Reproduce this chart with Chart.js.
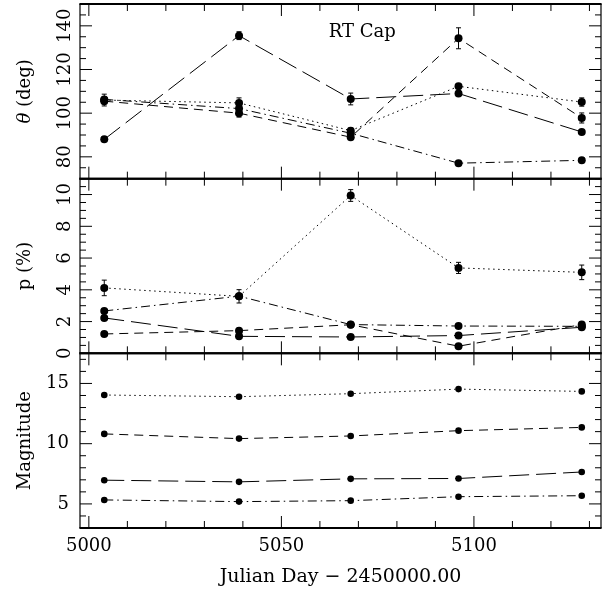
<!DOCTYPE html>
<html>
<head>
<meta charset="utf-8">
<script src="https://cdn.jsdelivr.net/npm/chart.js@4.4.1/dist/chart.umd.min.js"></script>
<style>
body { margin: 0; background: #fff; }
canvas { display: block; }
</style>
</head>
<body>
<canvas id="chart" width="605" height="590"></canvas>
<script>
// observation dates, JD - 2450000
var days = [5004, 5039, 5068, 5096, 5128];

// position angle theta (deg), one array per line style
var thetaDotted  = [106.0, 104.7, 92.0, 112.3, 105.1];
var thetaShort   = [105.5, 100.0, 89.0, 134.3, 97.8];
var thetaLong    = [88.0, 135.5, 106.5, 109.0, 91.4];
var thetaDashDot = [106.3, 102.1, 90.8, 77.1, 78.4];
var thetaErrDotted = [2.7, 2.3, 1.2, 1.0, 1.9];
var thetaErrShort  = [0, 1.8, 1.0, 4.8, 2.3];
var thetaErrLong   = [0, 1.8, 2.7, 1.0, 0];

// polarization p (%)
var pDotted  = [4.12, 3.59, 9.94, 5.38, 5.10];
var pShort   = [1.22, 1.43, 1.80, 0.45, 1.81];
var pLong    = [2.23, 1.07, 1.03, 1.12, 1.64];
var pDashDot = [2.67, 3.60, 1.81, 1.72, 1.70];
var pErrDotted = [0.49, 0.42, 0.37, 0.35, 0.46];

// magnitudes
var magDotted  = [14.04, 13.90, 14.15, 14.53, 14.34];
var magShort   = [10.81, 10.42, 10.64, 11.08, 11.35];
var magLong    = [6.97, 6.83, 7.08, 7.11, 7.65];
var magDashDot = [5.33, 5.19, 5.27, 5.60, 5.68];

// tick labels
var dayTicks = [5000, 5050, 5100];
var thetaTicks = [80, 100, 120, 140];
var pTicks = [0, 2, 4, 6, 8, 10];
var magTicks = [5, 10, 15];

var FONT = "'DejaVu Serif', serif";
var SIZE = 18;
var dotted = [1.5, 3.5], shortDash = [9, 6], longDash = [20, 7], dashDot = [9, 4, 1.5, 4];

function series(vals, axis, dash, r) {
    return {
        data: days.map(function(d, i) { return {x: d, y: vals[i]}; }),
        yAxisID: axis,
        borderColor: '#000',
        backgroundColor: '#000',
        borderWidth: 1,
        borderDash: dash,
        pointRadius: r,
        pointBorderWidth: 0,
        tension: 0,
        fill: false
    };
}

// panels: axis id, major/minor step, label values, title
var panels = [
    {id: 'yTheta', major: 20, minor: 5, ticks: thetaTicks, rotate: true, title: ['\u03b8', ' (deg)']},
    {id: 'yP', major: 2, minor: 0.5, ticks: pTicks, rotate: true, title: ['', 'p (%)']},
    {id: 'yMag', major: 5, minor: 1, ticks: magTicks, rotate: false, title: ['', 'Magnitude']}
];

var errorBars = [
    ['yTheta', thetaDotted, thetaErrDotted],
    ['yTheta', thetaShort, thetaErrShort],
    ['yTheta', thetaLong, thetaErrLong],
    ['yP', pDotted, pErrDotted]
];

function line(ctx, x1, y1, x2, y2) {
    ctx.beginPath();
    ctx.moveTo(x1, y1);
    ctx.lineTo(x2, y2);
    ctx.stroke();
}

var framePlugin = {
    id: 'frame',
    afterDatasetsDraw: function(chart) {
        var ctx = chart.ctx, xs = chart.scales.x;
        ctx.save();
        ctx.strokeStyle = '#000';
        ctx.lineWidth = 1;
        errorBars.forEach(function(e) {
            var ys = chart.scales[e[0]];
            days.forEach(function(d, i) {
                if (!e[2][i]) return;
                var px = xs.getPixelForValue(d);
                var lo = ys.getPixelForValue(e[1][i] - e[2][i]);
                var hi = ys.getPixelForValue(e[1][i] + e[2][i]);
                line(ctx, px, lo, px, hi);
                line(ctx, px - 2.5, lo, px + 2.5, lo);
                line(ctx, px - 2.5, hi, px + 2.5, hi);
            });
        });
        ctx.restore();
    },
    afterDraw: function(chart) {
        var ctx = chart.ctx, xs = chart.scales.x;
        ctx.save();
        ctx.strokeStyle = '#000';
        ctx.fillStyle = '#000';
        panels.forEach(function(p) {
            var s = chart.scales[p.id];
            var L = xs.left, R = xs.right, T = s.top, B = s.bottom;
            // frame
            ctx.lineWidth = 2;
            line(ctx, L - 0.6, T, R + 0.6, T);
            line(ctx, L - 0.6, B, R + 0.6, B);
            ctx.lineWidth = 1.2;
            line(ctx, L, T, L, B);
            line(ctx, R, T, R, B);
            ctx.lineWidth = 1;
            // x ticks on top and bottom of each panel
            for (var i = Math.ceil(xs.min / 10); i * 10 <= xs.max; i++) {
                var px = xs.getPixelForValue(i * 10);
                var len = (i % 5 === 0) ? 12 : 7;
                line(ctx, px, T, px, T + len);
                line(ctx, px, B, px, B - len);
            }
            // y ticks on left and right
            for (var j = Math.ceil(s.min / p.minor); j * p.minor <= s.max + 1e-9; j++) {
                var v = j * p.minor;
                var py = s.getPixelForValue(v);
                var r = v / p.major;
                var ylen = Math.abs(r - Math.round(r)) < 1e-6 ? 12 : 6;
                line(ctx, L, py, L + ylen, py);
                line(ctx, R, py, R - ylen, py);
            }
            // rotated tick labels
            ctx.font = SIZE + 'px ' + FONT;
            if (p.rotate) {
                p.ticks.forEach(function(v) {
                    ctx.save();
                    ctx.translate(65, s.getPixelForValue(v));
                    ctx.rotate(-Math.PI / 2);
                    ctx.textAlign = 'center';
                    ctx.textBaseline = 'middle';
                    ctx.fillText(String(v), 0, 0);
                    ctx.restore();
                });
            }
            // axis title
            ctx.save();
            ctx.translate(25, (T + B) / 2);
            ctx.rotate(-Math.PI / 2);
            ctx.textBaseline = 'middle';
            ctx.textAlign = 'left';
            ctx.font = 'italic ' + SIZE + 'px ' + FONT;
            var w1 = ctx.measureText(p.title[0]).width;
            ctx.font = SIZE + 'px ' + FONT;
            var w2 = ctx.measureText(p.title[1]).width;
            var x0 = -(w1 + w2) / 2;
            ctx.font = 'italic ' + SIZE + 'px ' + FONT;
            ctx.fillText(p.title[0], x0, 0);
            ctx.font = SIZE + 'px ' + FONT;
            ctx.fillText(p.title[1], x0 + w1, 0);
            ctx.restore();
        });
        // star name
        var yt = chart.scales.yTheta;
        ctx.font = SIZE + 'px ' + FONT;
        ctx.textAlign = 'center';
        ctx.textBaseline = 'middle';
        ctx.fillText('RT Cap', xs.getPixelForValue(5071), yt.getPixelForValue(137.2));
        ctx.restore();
    }
};

function noPadding(scale) {
    scale.paddingTop = 0;
    scale.paddingBottom = 0;
    scale.paddingLeft = 0;
    scale.paddingRight = 0;
}

function yAxis(min, max, weight, values, showLabels) {
    return {
        type: 'linear',
        position: 'left',
        stack: 'panels',
        stackWeight: 1,
        weight: weight,
        min: min,
        max: max,
        grid: {display: false, drawTicks: false},
        border: {display: false},
        ticks: {display: showLabels, color: '#000', padding: 11, font: {family: FONT, size: SIZE}},
        afterBuildTicks: function(scale) {
            scale.ticks = values.map(function(v) { return {value: v}; });
        },
        afterFit: function(scale) {
            scale.width = 80;
            noPadding(scale);
        }
    };
}

var chart = new Chart(document.getElementById('chart'), {
    type: 'line',
    data: {
        datasets: [
            series(thetaDotted, 'yTheta', dotted, 4),
            series(thetaShort, 'yTheta', shortDash, 4),
            series(thetaLong, 'yTheta', longDash, 4),
            series(thetaDashDot, 'yTheta', dashDot, 4),
            series(pDotted, 'yP', dotted, 4),
            series(pShort, 'yP', shortDash, 4),
            series(pLong, 'yP', longDash, 4),
            series(pDashDot, 'yP', dashDot, 4),
            series(magDotted, 'yMag', dotted, 3.3),
            series(magShort, 'yMag', shortDash, 3.3),
            series(magLong, 'yMag', longDash, 3.3),
            series(magDashDot, 'yMag', dashDot, 3.3)
        ]
    },
    options: {
        responsive: false,
        animation: false,
        devicePixelRatio: 1,
        events: [],
        layout: {padding: {top: 3, right: 1, left: 0, bottom: 2}},
        plugins: {legend: {display: false}, tooltip: {enabled: false}},
        scales: {
            x: {
                type: 'linear',
                position: 'bottom',
                min: 4997.7,
                max: 5133,
                grid: {display: false, drawTicks: false},
                border: {display: false},
                ticks: {
                    color: '#000', padding: 8, autoSkip: false, maxRotation: 0,
                    font: {family: FONT, size: SIZE},
                    callback: function(v) { return String(v); }
                },
                afterBuildTicks: function(scale) {
                    scale.ticks = dayTicks.map(function(v) { return {value: v}; });
                },
                afterFit: function(scale) {
                    scale.height = 60;
                    noPadding(scale);
                },
                title: {
                    display: true,
                    text: 'Julian Day \u2212 2450000.00',
                    color: '#000',
                    font: {family: FONT, size: 19},
                    padding: {top: 0, bottom: 0}
                }
            },
            yTheta: yAxis(70, 150, 3, thetaTicks, false),
            yP: yAxis(0, 11, 2, pTicks, false),
            yMag: yAxis(3, 17.5, 1, magTicks, true)
        }
    },
    plugins: [framePlugin]
});
</script>
</body>
</html>
